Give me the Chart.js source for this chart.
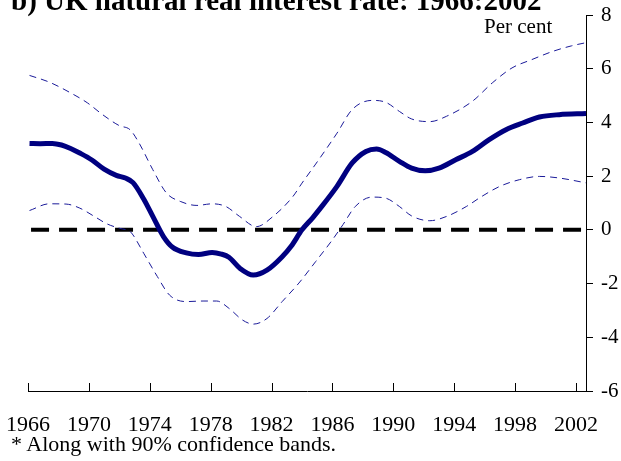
<!DOCTYPE html>
<html lang="en">
<head>
    <meta charset="UTF-8">
    <title>UK natural real interest rate</title>
    <script src="https://cdn.jsdelivr.net/npm/chart.js"></script>
    <style>
        body { margin: 0; background: #fff; }
        .wrap { position: relative; width: 621px; height: 461px; overflow: hidden; font-family: "Liberation Serif", "Times New Roman", serif; color: #000; }
        .wrap canvas { position: absolute; left: 0; top: 0; }
        #title { position: absolute; left: 11px; top: -19px; font-size: 29px; font-weight: bold; line-height: 29px; white-space: nowrap; }
        #title sup { font-size: 14px; vertical-align: 10px; }
        #unit { position: absolute; left: 484px; top: 16px; font-size: 21px; line-height: 21px; white-space: nowrap; }
        #note { position: absolute; left: 11px; top: 433px; font-size: 22px; line-height: 22px; white-space: nowrap; }
    </style>
</head>
<body>
    <div class="wrap">
        <canvas id="myChart" width="621" height="461"></canvas>
        <div id="title">b) UK natural real interest rate: 1966:2002<sup>*</sup></div>
        <div id="unit">Per cent</div>
        <div id="note">* Along with 90% confidence bands.</div>
    </div>
<script>
    // central estimate
    var centralYears = [1966.1, 1966.8, 1967.6, 1968.2, 1968.8, 1969.4, 1970.2, 1971.0, 1971.8, 1972.4, 1972.9, 1973.6, 1974.2, 1974.9, 1975.5, 1976.4, 1977.2, 1978.1, 1978.7, 1979.2, 1979.9, 1980.8, 1981.7, 1982.7, 1983.3, 1984.0, 1984.7, 1985.2, 1986.3, 1987.3, 1988.2, 1988.9, 1989.5, 1990.4, 1991.2, 1992.1, 1993.0, 1994.1, 1995.2, 1996.3, 1997.4, 1998.5, 1999.6, 2000.9, 2002.66];
    var centralRate = [3.22, 3.21, 3.22, 3.16, 3.03, 2.86, 2.6, 2.26, 2.03, 1.93, 1.76, 1.15, 0.5, -0.25, -0.65, -0.86, -0.92, -0.84, -0.9, -1.02, -1.42, -1.68, -1.5, -1.0, -0.6, 0.0, 0.45, 0.8, 1.62, 2.49, 2.92, 3.01, 2.88, 2.55, 2.3, 2.2, 2.3, 2.61, 2.92, 3.36, 3.73, 3.98, 4.2, 4.29, 4.33];

    // 90% bands
    var upperYears = [1966.1, 1967.4, 1968.8, 1969.9, 1970.9, 1972.0, 1972.7, 1973.3, 1974.2, 1975.1, 1976.0, 1977.1, 1978.1, 1979.0, 1979.9, 1981.0, 1982.1, 1983.4, 1984.0, 1984.9, 1986.3, 1987.3, 1988.6, 1989.5, 1990.4, 1991.2, 1992.4, 1993.5, 1995.2, 1996.5, 1997.8, 1999.1, 2000.5, 2001.7, 2002.66];
    var upperBand = [5.75, 5.5, 5.1, 4.73, 4.29, 3.88, 3.73, 3.23, 2.24, 1.37, 1.06, 0.91, 0.97, 0.87, 0.5, 0.12, 0.5, 1.24, 1.74, 2.45, 3.6, 4.48, 4.82, 4.75, 4.41, 4.13, 4.03, 4.23, 4.79, 5.47, 6.03, 6.34, 6.65, 6.85, 6.97];
    var lowerYears = [1966.1, 1967.4, 1968.5, 1969.4, 1970.3, 1971.2, 1972.0, 1972.7, 1972.9, 1973.6, 1974.5, 1975.3, 1976.4, 1977.5, 1978.4, 1979.2, 1980.1, 1980.8, 1981.7, 1982.7, 1983.8, 1984.9, 1986.0, 1986.7, 1987.5, 1988.6, 1989.5, 1990.4, 1991.2, 1992.4, 1993.5, 1994.8, 1995.8, 1997.0, 1998.3, 1999.6, 2000.9, 2002.66];
    var lowerBand = [0.72, 0.97, 0.96, 0.81, 0.52, 0.22, 0.06, -0.06, -0.19, -0.87, -1.74, -2.43, -2.67, -2.65, -2.65, -2.92, -3.36, -3.51, -3.3, -2.67, -1.98, -1.18, -0.37, 0.2, 0.87, 1.22, 1.18, 0.87, 0.52, 0.34, 0.5, 0.87, 1.24, 1.62, 1.87, 1.99, 1.93, 1.75];

    var yearTicks = [1966, 1970, 1974, 1978, 1982, 1986, 1990, 1994, 1998, 2002];
    var zeroLine = [1966.2, 2002.66];

    function pts(xs, ys) {
        return xs.map(function (x, i) { return { x: x, y: ys[i] }; });
    }

    // x ticks point up into the plot
    var innerTicks = {
        id: 'innerTicks',
        afterDraw: function (chart) {
            var ctx = chart.ctx, xs = chart.scales.x, bottom = chart.chartArea.bottom;
            ctx.save();
            ctx.strokeStyle = '#000';
            ctx.lineWidth = 1;
            ctx.beginPath();
            yearTicks.forEach(function (yr) {
                var px = Math.round(xs.getPixelForValue(yr)) + 0.5;
                ctx.moveTo(px, bottom);
                ctx.lineTo(px, bottom - 8);
            });
            ctx.stroke();
            ctx.restore();
        }
    };

    var ctx = document.getElementById('myChart').getContext('2d');
    var myChart = new Chart(ctx, {
        type: 'line',
        data: {
            datasets: [{
                data: pts(centralYears, centralRate),
                borderColor: '#000080',
                borderWidth: 5,
                cubicInterpolationMode: 'monotone'
            }, {
                data: pts(upperYears, upperBand),
                borderColor: '#1a1a99',
                borderWidth: 1,
                borderDash: [7, 5],
                cubicInterpolationMode: 'monotone'
            }, {
                data: pts(lowerYears, lowerBand),
                borderColor: '#1a1a99',
                borderWidth: 1,
                borderDash: [7, 5],
                cubicInterpolationMode: 'monotone'
            }, {
                data: pts(zeroLine, [0, 0]),
                borderColor: '#000',
                borderWidth: 4,
                borderDash: [18, 10]
            }]
        },
        plugins: [innerTicks],
        options: {
            responsive: false,
            animation: false,
            elements: { point: { radius: 0 } },
            layout: { padding: { left: 28, top: 15, right: 0, bottom: 0 } },
            plugins: { legend: { display: false }, tooltip: { enabled: false } },
            scales: {
                x: {
                    type: 'linear',
                    min: 1966,
                    max: 2002.66,
                    afterFit: function (s) { s.height = 70; s.paddingLeft = 0; s.paddingRight = 0; },
                    afterBuildTicks: function (s) { s.ticks = yearTicks.map(function (v) { return { value: v }; }); },
                    grid: { display: false, drawTicks: false },
                    border: { color: '#000', width: 1 },
                    ticks: {
                        padding: 21,
                        maxRotation: 0,
                        autoSkip: false,
                        color: '#000',
                        font: { family: 'Liberation Serif', size: 22 },
                        callback: function (v) { return String(v); }
                    }
                },
                y: {
                    position: 'right',
                    min: -6,
                    max: 8,
                    afterFit: function (s) { s.width = 35; s.paddingTop = 0; s.paddingBottom = 0; },
                    grid: { drawOnChartArea: false, drawTicks: true, tickLength: 7, color: '#000' },
                    border: { color: '#000', width: 1 },
                    ticks: {
                        stepSize: 2,
                        padding: 8,
                        color: '#000',
                        font: { family: 'Liberation Serif', size: 21 },
                        callback: function (v) { return String(v); }
                    }
                }
            }
        }
    });
</script>
</body>
</html>
